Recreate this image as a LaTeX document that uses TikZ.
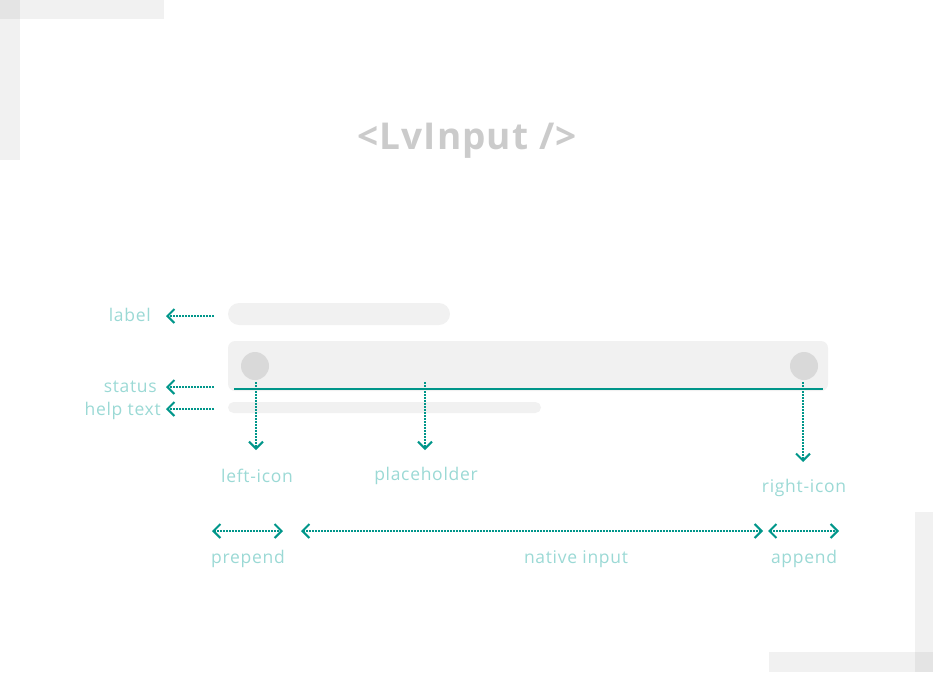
\documentclass[tikz,border=0pt]{standalone}
\usepackage{fontspec}
\setmainfont{Open Sans}[Ligatures=NoCommon]
\usetikzlibrary{arrows.meta}
\definecolor{teal1}{HTML}{00968A}
\definecolor{tealtxt}{HTML}{9BD9D5}
\definecolor{bar}{HTML}{F1F1F1}
\definecolor{circ}{HTML}{D9D9D9}
\definecolor{titlec}{HTML}{CBCBCB}
\tikzset{
  deco/.style={fill=black, fill opacity=0.055, draw=none},
  tip/.tip={Straight Barb[length=7pt,width=14pt,line width=2pt]},
  ptr/.style={draw=teal1, line width=1.7pt, dash pattern=on 1.7pt off 1.3pt, -tip},
  dptr/.style={ptr, tip-tip},
  lbl/.style={text=tealtxt, font=\fontsize{17.5}{20}\selectfont\addfontfeatures{LetterSpace=4}, inner sep=0pt},
  shapefill/.style={fill=bar, draw=none},
}
\begin{document}
\begin{tikzpicture}[x=1pt,y=-1pt]
\useasboundingbox (0,0) rectangle (933,672);
% corner decorations
\fill[deco] (0,0) rectangle (164,19);
\fill[deco] (0,0) rectangle (20,160);
\fill[deco] (915,512) rectangle (933,672);
\fill[deco] (769,652) rectangle (933,672);
% title
\node[text=titlec, font=\fontsize{37}{40}\selectfont\bfseries\addfontfeatures{LetterSpace=3}, inner sep=0pt] (title) at (467,141) {<LvInput />};
% shapes
\fill[shapefill, rounded corners=11pt] (228,303) rectangle (450,325);
\fill[shapefill, rounded corners=7pt] (228,341) rectangle (828,391);
\fill[shapefill, rounded corners=5.5pt] (228,402) rectangle (541,413);
\node[circle, fill=circ, minimum size=28pt, inner sep=0pt] (licon) at (255,366) {};
\node[circle, fill=circ, minimum size=28pt, inner sep=0pt] (ricon) at (804,366) {};
\coordinate (ul1) at (234,389);
\coordinate (ul2) at (823,389);
\draw[teal1, line width=1.4pt] (ul1) -- (ul2);
% left labels
\node[lbl, anchor=east] (tlabel) at (151,315) {label};
\node[lbl, anchor=east] (tstatus) at (157,387) {status};
\node[lbl, anchor=east] (thelp) at (161,411) {help text};
\coordinate (la0) at (214,316); \coordinate (la1) at (166,316);
\coordinate (sa0) at (214,387); \coordinate (sa1) at (166,387);
\coordinate (ha0) at (214,409); \coordinate (ha1) at (166,409);
\draw[ptr] (la0) -- (la1);
\draw[ptr] (sa0) -- (sa1);
\draw[ptr] (ha0) -- (ha1);
% down arrows
\coordinate (li0) at (256,382); \coordinate (li1) at (256,450);
\coordinate (ph0) at (425,382); \coordinate (ph1) at (425,450);
\coordinate (ri0) at (803,382); \coordinate (ri1) at (803,462);
\draw[ptr] (li0) -- (li1);
\draw[ptr] (ph0) -- (ph1);
\draw[ptr] (ri0) -- (ri1);
\node[lbl] (tleft) at (257,475.5) {left-icon};
\node[lbl] (tplace) at (426,475.5) {placeholder};
\node[lbl] (tright) at (804,487.5) {right-icon};
% bottom arrows
\coordinate (pp0) at (212,531); \coordinate (pp1) at (283,531);
\coordinate (ni0) at (301,531); \coordinate (ni1) at (763,531);
\coordinate (ap0) at (768,531); \coordinate (ap1) at (839,531);
\draw[dptr] (pp0) -- (pp1);
\draw[dptr] (ni0) -- (ni1);
\draw[dptr] (ap0) -- (ap1);
\node[lbl] (tprep) at (248,558.5) {prepend};
\node[lbl] (tnat) at (576,559.5) {native input};
\node[lbl] (tapp) at (804,558.5) {append};
\end{tikzpicture}
\end{document}
